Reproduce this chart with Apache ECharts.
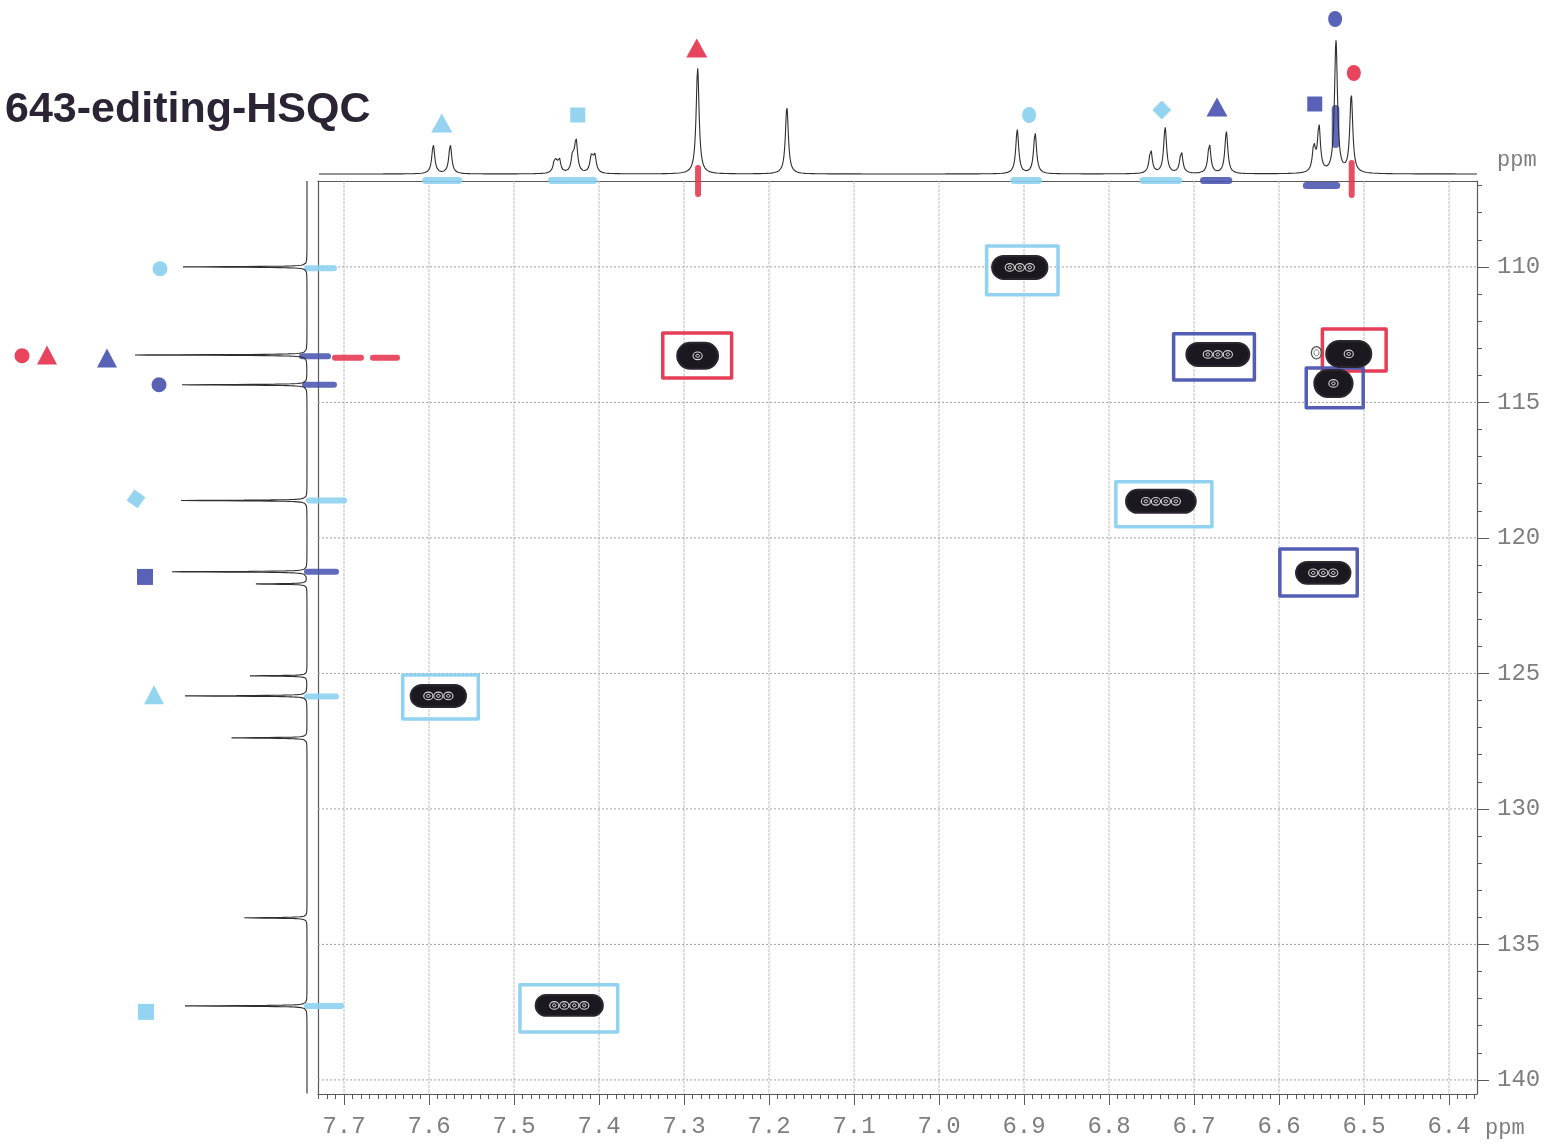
<!DOCTYPE html>
<html>
<head>
<meta charset="utf-8">
<title>643-editing-HSQC</title>
<script src="https://cdn.jsdelivr.net/npm/echarts@6/dist/echarts.min.js"></script>
<style>
  html, body { margin: 0; padding: 0; background: #ffffff; }
  #chart { width: 1551px; height: 1145px; }
</style>
</head>
<body>
<div id="chart"></div>
<script>
// ---------- axis ranges and tick labels ----------
const H_RANGE = [6.3671, 7.7306];          // 1H axis, ppm
const C_RANGE = [106.83, 140.52];          // 13C axis, ppm
const H_TICKS = [7.7, 7.6, 7.5, 7.4, 7.3, 7.2, 7.1, 7.0, 6.9, 6.8, 6.7, 6.6, 6.5, 6.4];
const C_TICKS = [110, 115, 120, 125, 130, 135, 140];

// ---------- 1D projections ----------
// 1H trace peaks: [ppm, height]
const H_PEAKS = [
  [7.595, 29], [7.575, 29],
  [7.452, 14], [7.447, 15], [7.431, 16], [7.427, 32], [7.409, 16], [7.405, 17],
  [7.284, 106],
  [7.179, 67],
  [6.908, 44], [6.887, 41],
  [6.751, 25], [6.734, 46], [6.715, 23],
  [6.682, 30], [6.662, 42],
  [6.559, 26], [6.553, 46], [6.533, 132], [6.515, 78]
];
// 13C trace peaks: [ppm, height]
const C_PEAKS = [
  [110.00, 124], [113.25, 172], [114.35, 125], [118.62, 126], [121.25, 135],
  [121.70, 52], [125.09, 57], [125.83, 122], [127.38, 77], [134.02, 64], [137.27, 122]
];

// ---------- 2D cross peaks ----------
// [1H ppm, 13C ppm, 1H extent, 13C extent, inner contour rings]
const CROSS_PEAKS = [
  [6.905, 110.02, 0.065, 0.85, 3],
  [7.284, 113.28, 0.048, 0.96, 1],
  [6.672, 113.23, 0.074, 0.85, 3],
  [6.518, 113.21, 0.053, 0.96, 1],
  [6.536, 114.30, 0.045, 1.00, 1],
  [6.739, 118.65, 0.082, 0.85, 4],
  [6.548, 121.29, 0.064, 0.81, 3],
  [7.589, 125.83, 0.065, 0.81, 3],
  [7.435, 137.25, 0.079, 0.77, 4]
];
// weak open contour
const WEAK_PEAKS = [[6.556, 113.17, 0.012, 0.45]];

// ---------- hand-drawn assignment marks ----------
// boxes: [1H left, 1H right, 13C top, 13C bottom, ink]
const BOXES = [
  [6.944, 6.860, 109.23, 111.03, 'cyan'],
  [7.325, 7.244, 112.44, 114.10, 'red'],
  [6.724, 6.629, 112.47, 114.17, 'blue'],
  [6.549, 6.474, 112.29, 113.84, 'red'],
  [6.568, 6.501, 113.73, 115.20, 'blue'],
  [6.792, 6.679, 117.93, 119.59, 'cyan'],
  [6.599, 6.508, 120.41, 122.14, 'blue'],
  [7.631, 7.542, 125.06, 126.68, 'cyan'],
  [7.493, 7.378, 136.49, 138.23, 'cyan']
];
// symbols above the 1H trace: [ppm, height, shape, ink]
const TOP_SYMBOLS = [
  [7.585, 51, 'triangle', 'cyan'],
  [7.425, 59, 'rect', 'cyan'],
  [7.285, 126, 'triangle', 'red'],
  [6.894, 59, 'circle', 'cyan'],
  [6.738, 64, 'diamond', 'cyan'],
  [6.673, 67, 'triangle', 'blue'],
  [6.558, 70, 'rect', 'blue'],
  [6.534, 155, 'circle', 'blue'],
  [6.512, 101, 'circle', 'red']
];
// symbols beside the 13C trace: [height, ppm, shape, ink]
const LEFT_SYMBOLS = [
  [147, 110.07, 'circle', 'cyan'],
  [285, 113.28, 'circle', 'red'],
  [260, 113.25, 'triangle', 'red'],
  [200, 113.36, 'triangle', 'blue'],
  [148, 114.35, 'circle', 'blue'],
  [171, 118.56, 'diamond', 'cyan'],
  [162, 121.44, 'rect', 'blue'],
  [153, 125.79, 'triangle', 'cyan'],
  [161, 137.49, 'rect', 'cyan']
];
// highlighter strokes along the 1H trace: [ppm from, ppm to, height top, height bottom, ink]
const TOP_STROKES = [
  [7.608, 7.561, -3, -10, 'cyan'],
  [7.460, 7.402, -3, -10, 'cyan'],
  [6.916, 6.879, -3, -10, 'cyan'],
  [6.764, 6.714, -3, -10, 'cyan'],
  [6.693, 6.655, -3, -10, 'blue'],
  [6.572, 6.528, -8, -15, 'blue'],
  [7.287, 7.280, 9, -23, 'red'],
  [6.518, 6.511, 14, -24, 'red'],
  [6.538, 6.529, 69, 26, 'blue']
];
// highlighter strokes along the 13C trace: [ppm, height from, height to, ink]
const LEFT_STROKES = [
  [110.05, 3, -30, 'cyan'],
  [113.30, 8, -24, 'blue'],
  [113.35, -25, -57, 'red'],
  [113.35, -63, -93, 'red'],
  [114.35, 5, -30, 'blue'],
  [118.62, 1, -40, 'cyan'],
  [121.25, 3, -32, 'blue'],
  [125.85, 3, -32, 'cyan'],
  [137.27, 3, -37, 'cyan']
];

const INK = { cyan: '#8bd0ef', blue: '#4b55b1', red: '#e6344f' };
const MONO = 'Liberation Mono';
const GREY = '#7e7e7e';

// minor tick positions
const H_MINOR = [];
for (let i = 637; i <= 773; i++) H_MINOR.push(i / 100);
const C_MINOR = [];
for (let v = 107; v <= 140; v++) C_MINOR.push(v);

// Lorentzian line shapes summed over a peak table
function trace(peaks, lo, hi, step, hw) {
  const xs = [];
  for (let x = lo; x <= hi; x += step) xs.push(x);
  peaks.forEach(p => xs.push(p[0]));
  xs.sort((a, b) => a - b);
  return xs.map(x => [x, peaks.reduce((s, p) => s + p[1] / (1 + Math.pow((x - p[0]) / hw, 2)), 0)]);
}
const hTrace = trace(H_PEAKS, H_RANGE[0], H_RANGE[1], 0.0004, 0.0021);
const cTrace = trace(C_PEAKS, C_RANGE[0], C_RANGE[1], 0.004, 0.014).map(d => [d[1], d[0]]);

const chart = echarts.init(document.getElementById('chart'), null, { renderer: 'canvas' });

chart.setOption({
  animation: false,
  backgroundColor: '#ffffff',
  title: {
    text: '643-editing-HSQC',
    left: 0, top: 84,
    textStyle: { fontFamily: 'Liberation Sans', fontWeight: 'bold', fontSize: 43, color: '#2c2434' }
  },
  grid: [
    { left: 318, top: 181, width: 1159, height: 913 },   // 2D map
    { left: 318, top: 0, width: 1159, height: 174 },     // 1H projection
    { left: 0, top: 181, width: 307, height: 913 }       // 13C projection
  ],
  xAxis: [
    {
      gridIndex: 0, type: 'value', min: H_RANGE[0], max: H_RANGE[1], inverse: true, position: 'bottom',
      axisLine: { show: true, onZero: false, lineStyle: { color: '#5a5a5a', width: 1.2 } },
      axisTick: { show: true, customValues: H_TICKS, length: 11, lineStyle: { color: '#5a5a5a' } },
      axisLabel: { customValues: H_TICKS, formatter: v => v.toFixed(1), fontFamily: MONO, fontSize: 24, color: GREY, margin: 21 },
      splitLine: { show: false }
    },
    {
      gridIndex: 0, type: 'value', min: H_RANGE[0], max: H_RANGE[1], inverse: true, position: 'bottom',
      axisLine: { show: false, onZero: false },
      axisTick: { show: true, customValues: H_MINOR, length: 5, lineStyle: { color: '#5a5a5a' } },
      axisLabel: { show: false }, splitLine: { show: false }
    },
    {
      gridIndex: 0, type: 'value', min: H_RANGE[0], max: H_RANGE[1], inverse: true, position: 'top',
      axisLine: { show: true, onZero: false, lineStyle: { color: '#5a5a5a', width: 1.2 } },
      axisTick: { show: false }, axisLabel: { show: false }, splitLine: { show: false }
    },
    { gridIndex: 1, type: 'value', min: H_RANGE[0], max: H_RANGE[1], inverse: true, show: false },
    { gridIndex: 2, type: 'value', min: 0, max: 307, inverse: true, show: false }
  ],
  yAxis: [
    {
      gridIndex: 0, type: 'value', min: C_RANGE[0], max: C_RANGE[1], inverse: true, position: 'right',
      axisLine: { show: true, onZero: false, lineStyle: { color: '#5a5a5a', width: 1.2 } },
      axisTick: { show: true, customValues: C_TICKS, length: 12, lineStyle: { color: '#5a5a5a' } },
      axisLabel: { customValues: C_TICKS, formatter: v => String(v), fontFamily: MONO, fontSize: 24, color: GREY, margin: 20 },
      splitLine: { show: false }
    },
    {
      gridIndex: 0, type: 'value', min: C_RANGE[0], max: C_RANGE[1], inverse: true, position: 'right',
      axisLine: { show: false, onZero: false },
      axisTick: { show: true, customValues: C_MINOR, length: 5, lineStyle: { color: '#5a5a5a' } },
      axisLabel: { show: false }, splitLine: { show: false }
    },
    {
      gridIndex: 0, type: 'value', min: C_RANGE[0], max: C_RANGE[1], inverse: true, position: 'left',
      axisLine: { show: true, onZero: false, lineStyle: { color: '#5a5a5a', width: 1.2 } },
      axisTick: { show: false }, axisLabel: { show: false }, splitLine: { show: false }
    },
    { gridIndex: 1, type: 'value', min: 0, max: 174, show: false },
    { gridIndex: 2, type: 'value', min: C_RANGE[0], max: C_RANGE[1], inverse: true, show: false }
  ],
  graphic: [
    { type: 'text', left: 1497, top: 149, style: { text: 'ppm', font: '22px "Liberation Mono"', fill: GREY } },
    { type: 'text', left: 1485, top: 1117, style: { text: 'ppm', font: '22px "Liberation Mono"', fill: GREY } }
  ],
  series: [
    // dotted grid
    {
      type: 'custom', xAxisIndex: 0, yAxisIndex: 0, z: 1, silent: true,
      data: H_TICKS.map(v => [v, 0]).concat(C_TICKS.map(v => [v, 1])),
      renderItem(params, api) {
        const v = api.value(0);
        const vertical = api.value(1) === 0;
        const a = vertical ? api.coord([v, C_RANGE[0]]) : api.coord([H_RANGE[1], v]);
        const b = vertical ? api.coord([v, C_RANGE[1]]) : api.coord([H_RANGE[0], v]);
        return {
          type: 'line',
          shape: { x1: a[0], y1: a[1], x2: b[0], y2: b[1] },
          style: { stroke: vertical ? '#bdbdbd' : '#a2a2a2', lineWidth: 1, lineDash: vertical ? [3, 1] : [2, 2] }
        };
      }
    },
    // highlighter strokes on the 1H side
    {
      type: 'custom', xAxisIndex: 3, yAxisIndex: 3, z: 2, silent: true, clip: false,
      data: TOP_STROKES.map(s => [s[0], s[1], s[2], s[3]]),
      renderItem(params, api) {
        const s = TOP_STROKES[params.dataIndex];
        const p1 = api.coord([s[0], s[2]]);
        const p2 = api.coord([s[1], s[3]]);
        const x = Math.min(p1[0], p2[0]), y = Math.min(p1[1], p2[1]);
        const w = Math.abs(p2[0] - p1[0]), h = Math.abs(p2[1] - p1[1]);
        return {
          type: 'rect',
          shape: { x: x, y: y, width: w, height: h, r: Math.min(w, h) / 2 },
          style: { fill: INK[s[4]], opacity: 0.88 }
        };
      }
    },
    // highlighter strokes on the 13C side
    {
      type: 'custom', xAxisIndex: 4, yAxisIndex: 4, z: 2, silent: true, clip: false,
      data: LEFT_STROKES.map(s => [s[1], s[0]]),
      renderItem(params, api) {
        const s = LEFT_STROKES[params.dataIndex];
        const p1 = api.coord([s[1], s[0]]);
        const p2 = api.coord([s[2], s[0]]);
        const x = Math.min(p1[0], p2[0]);
        const w = Math.abs(p2[0] - p1[0]);
        return {
          type: 'rect',
          shape: { x: x, y: p1[1] - 3, width: w, height: 6, r: 3 },
          style: { fill: INK[s[3]], opacity: 0.88 }
        };
      }
    },
    // 1H projection
    {
      type: 'line', xAxisIndex: 3, yAxisIndex: 3, z: 3, data: hTrace,
      showSymbol: false, silent: true, clip: false,
      lineStyle: { color: '#2e2e2e', width: 1.1 }
    },
    // 13C projection
    {
      type: 'line', xAxisIndex: 4, yAxisIndex: 4, z: 3, data: cTrace,
      showSymbol: false, silent: true, clip: false,
      lineStyle: { color: '#2e2e2e', width: 1.1 }
    },
    // assignment symbols above the 1H trace
    {
      type: 'scatter', xAxisIndex: 3, yAxisIndex: 3, z: 4, silent: true, clip: false,
      data: TOP_SYMBOLS.map(s => ({
        value: [s[0], s[1]], symbol: s[2],
        symbolSize: s[2] === 'triangle' ? [21, 19] : s[2] === 'diamond' ? [19, 19] : s[2] === 'rect' ? [15, 15] : [14, 16],
        itemStyle: { color: INK[s[3]], opacity: 0.92 }
      }))
    },
    // assignment symbols beside the 13C trace
    {
      type: 'scatter', xAxisIndex: 4, yAxisIndex: 4, z: 4, silent: true, clip: false,
      data: LEFT_SYMBOLS.map(s => ({
        value: [s[0], s[1]], symbol: s[2],
        symbolSize: s[2] === 'triangle' ? [20, 19] : s[2] === 'diamond' ? [19, 19] : s[2] === 'rect' ? [16, 16] : [15, 15],
        symbolRotate: s[2] === 'diamond' ? 10 : 0,
        itemStyle: { color: INK[s[3]], opacity: 0.92 }
      }))
    },
    // assignment boxes
    {
      type: 'custom', xAxisIndex: 0, yAxisIndex: 0, z: 5, silent: true,
      data: BOXES.map(b => [b[0], b[1], b[2], b[3]]),
      renderItem(params, api) {
        const b = BOXES[params.dataIndex];
        const p1 = api.coord([b[0], b[2]]);
        const p2 = api.coord([b[1], b[3]]);
        return {
          type: 'polygon',
          shape: { points: [[p1[0], p1[1]], [p2[0], p1[1]], [p2[0], p2[1]], [p1[0], p2[1]]] },
          style: { fill: 'none', stroke: INK[b[4]], lineWidth: 3.5, lineJoin: 'round', opacity: 0.95 }
        };
      }
    },
    // cross peaks
    {
      type: 'custom', xAxisIndex: 0, yAxisIndex: 0, z: 6, silent: true,
      data: CROSS_PEAKS.map(p => [p[0], p[1], p[2], p[3], p[4]]),
      renderItem(params, api) {
        const c = api.coord([api.value(0), api.value(1)]);
        const s = api.size([api.value(2), api.value(3)]);
        const n = api.value(4);
        const w = s[0], h = s[1];
        const children = [{
          type: 'rect',
          shape: { x: c[0] - w / 2, y: c[1] - h / 2, width: w, height: h, r: h / 2 },
          style: { fill: '#1c181f', stroke: '#2c2630', lineWidth: 2 }
        }];
        const gap = 10;
        for (let i = 0; i < n; i++) {
          const cx = c[0] + (i - (n - 1) / 2) * gap;
          children.push({
            type: 'ellipse', shape: { cx: cx, cy: c[1], rx: 4.6, ry: 3.8 },
            style: { fill: 'none', stroke: '#d8d6da', lineWidth: 1.1 }
          });
          children.push({
            type: 'ellipse', shape: { cx: cx, cy: c[1], rx: 1.8, ry: 1.5 },
            style: { fill: 'none', stroke: '#f2f2f2', lineWidth: 1 }
          });
        }
        return { type: 'group', children: children };
      }
    },
    // weak contour
    {
      type: 'custom', xAxisIndex: 0, yAxisIndex: 0, z: 6, silent: true,
      data: WEAK_PEAKS,
      renderItem(params, api) {
        const c = api.coord([api.value(0), api.value(1)]);
        const s = api.size([api.value(2), api.value(3)]);
        return {
          type: 'group', children: [
            { type: 'ellipse', shape: { cx: c[0], cy: c[1], rx: s[0] / 2, ry: s[1] / 2 }, style: { fill: 'none', stroke: '#555', lineWidth: 1.3 } },
            { type: 'ellipse', shape: { cx: c[0], cy: c[1], rx: s[0] / 4, ry: s[1] / 4 }, style: { fill: 'none', stroke: '#777', lineWidth: 1 } }
          ]
        };
      }
    }
  ]
});
</script>
</body>
</html>
